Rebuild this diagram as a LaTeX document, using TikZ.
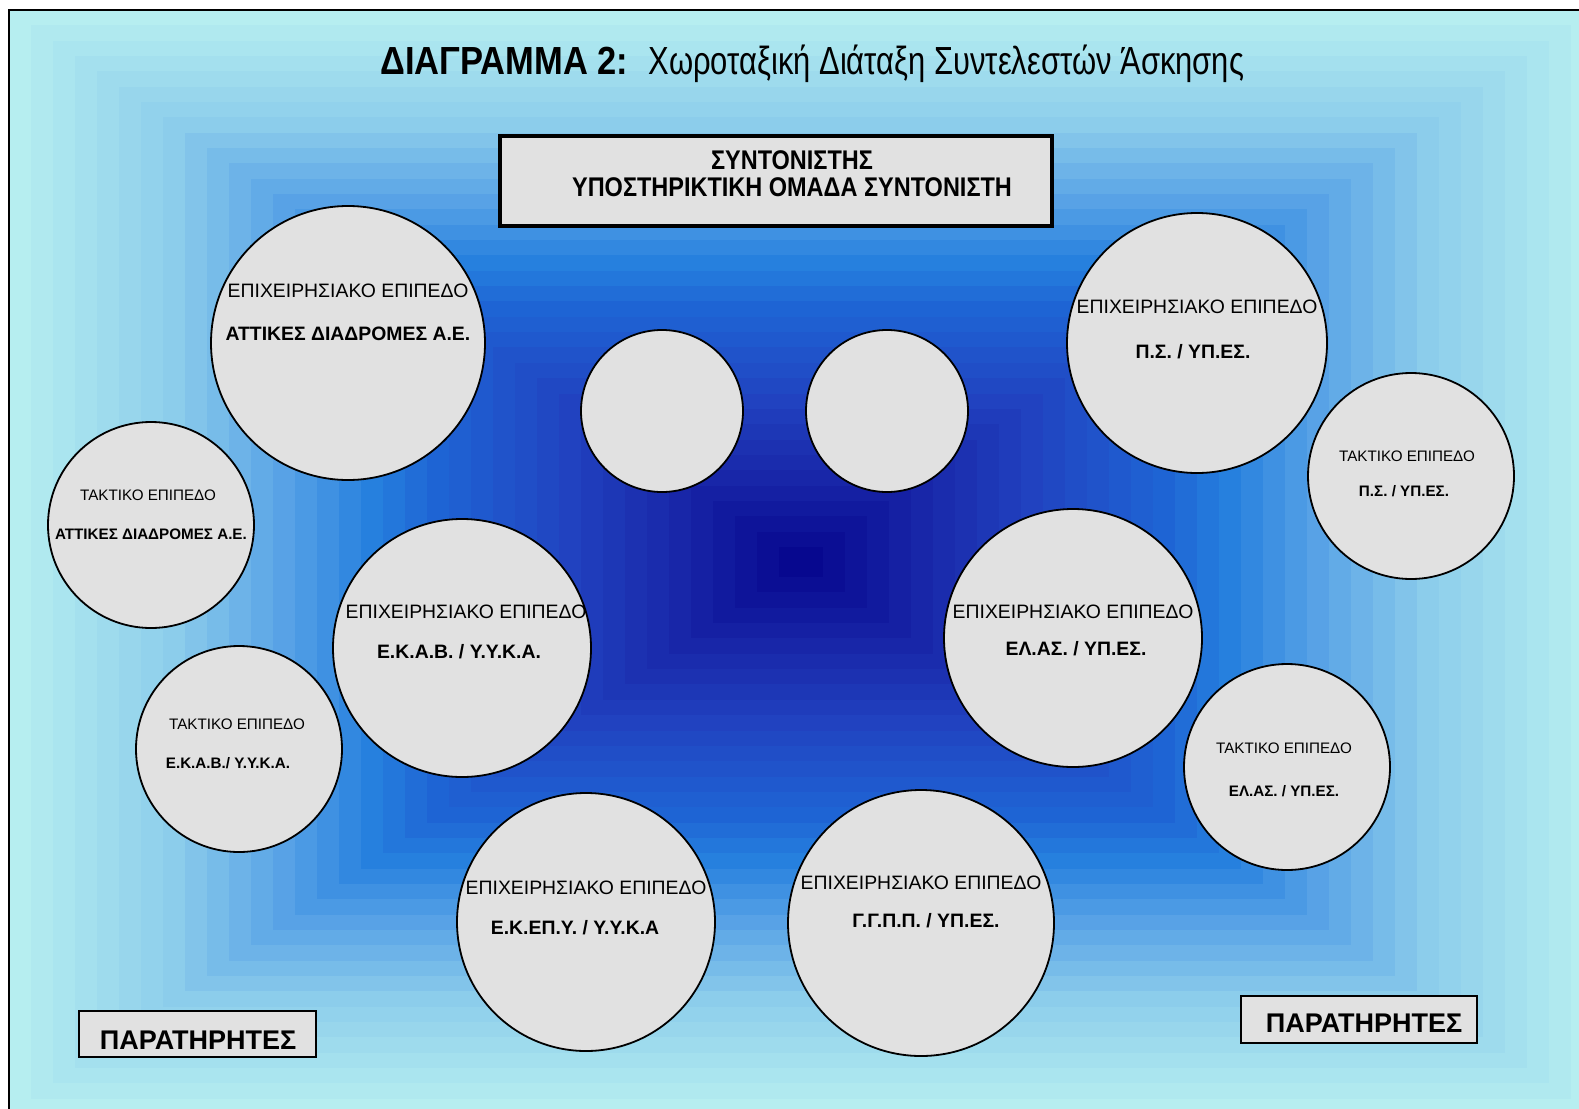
\documentclass[tikz,border=0pt]{standalone}
\usepackage{fontspec}
\setmainfont{Liberation Sans}
\newfontfamily\narrowA{Liberation Sans}[FakeStretch=0.88]
\newfontfamily\narrowC{Liberation Sans}[FakeStretch=0.87]
\newfontfamily\narrowB{Liberation Sans}[FakeStretch=0.79]
\definecolor{bg0}{RGB}{182,238,240}
\definecolor{bg1}{RGB}{140,205,235}
\definecolor{bg2}{RGB}{88,162,230}
\definecolor{bg3}{RGB}{38,128,222}
\definecolor{bg4}{RGB}{30,100,212}
\definecolor{bg5}{RGB}{33,66,192}
\definecolor{bg6}{RGB}{24,38,168}
\definecolor{bg7}{RGB}{4,2,138}
\definecolor{bubgray}{RGB}{225,225,225}
\begin{document}
\begin{tikzpicture}[x=0.5pt,y=-0.5pt,
  bub/.style={circle,draw=black,line width=0.9pt,fill=bubgray,inner sep=0pt,minimum size=#1},
  lvl/.style={anchor=base,inner sep=0pt,font=\fontsize{9.7pt}{11pt}\selectfont},
  lvlb/.style={lvl,font=\fontsize{9.7pt}{11pt}\selectfont\bfseries},
  slvl/.style={anchor=base,inner sep=0pt,font=\fontsize{7.6pt}{9pt}\selectfont},
  slvlb/.style={slvl,font=\fontsize{7.6pt}{9pt}\selectfont\bfseries},
  obsbox/.style={draw=black,line width=1pt,fill=bubgray},
  obstext/.style={anchor=base,inner sep=0pt,font=\fontsize{13.5pt}{15pt}\selectfont\bfseries},
  coordtext/.style={anchor=base,inner sep=0pt,font=\fontsize{13.5pt}{15pt}\narrowC\bfseries}]
\useasboundingbox (0,0) rectangle (1579,1108);
\fill[white] (0,0) rectangle (1579,1108);
% background gradient
\begin{scope}
\clip (0,0) rectangle (1579,1108);
\foreach \ka/\kb/\ca/\cb in {0/7/bg0/bg1,7/12/bg1/bg2,12/16/bg2/bg3,16/19/bg3/bg4,19/25/bg4/bg5,25/30/bg5/bg6,30/36/bg6/bg7}{
  \pgfmathtruncatemacro\kend{\kb-1}
  \foreach \k in {\ka,...,\kend}{
    \pgfmathtruncatemacro\p{100*(\k-\ka)/(\kb-\ka)}
    \pgfmathsetmacro\xa{9+\k*22}
    \pgfmathsetmacro\xb{1593-\k*22}
    \pgfmathsetmacro\ya{10+\k*15.34}
    \pgfmathsetmacro\yb{1114-\k*15.34}
    \colorlet{bandc}{\cb!\p!\ca}
    \fill[bandc] (\xa,\ya) rectangle (\xb,\yb);
  }
}
\draw[line width=1pt] (9,10) rectangle (1593,1114);
\end{scope}
% title
\node[anchor=base west,inner sep=0pt] (title) at (380,74)
  {\fontsize{19.6pt}{22pt}\narrowA\bfseries ΔΙΑΓΡΑΜΜΑ 2:\hspace{10pt}\narrowB\mdseries Χωροταξική Διάταξη Συντελεστών Άσκησης};
% coordinator box
\draw[line width=1.6pt,fill=bubgray] (500,136) rectangle (1052,226);
\node[coordtext] (coordA) at (792,169) {ΣΥΝΤΟΝΙΣΤΗΣ};
\node[coordtext] (coordB) at (792,196) {ΥΠΟΣΤΗΡΙΚΤΙΚΗ ΟΜΑΔΑ ΣΥΝΤΟΝΙΣΤΗ};
% circles
\node[bub=137pt] (c1) at (348,343) {};
\node[bub=103pt] (c2) at (151,525) {};
\node[bub=103pt] (c3) at (239,749) {};
\node[bub=129pt] (c4) at (462,648) {};
\node[bub=81pt] (c5) at (662,411) {};
\node[bub=81pt] (c6) at (887,411) {};
\node[bub=130pt] (c7) at (1197,343) {};
\node[bub=103pt] (c8) at (1411,476) {};
\node[bub=129pt] (c9) at (1073,638) {};
\node[bub=103pt] (c10) at (1287,767) {};
\node[bub=129pt] (c11) at (586,922) {};
\node[bub=133pt] (c12) at (921,923) {};
% circle texts
\node[lvl] (t1a) at (348,297) {ΕΠΙΧΕΙΡΗΣΙΑΚΟ ΕΠΙΠΕΔΟ};
\node[lvlb] (t1b) at (348,340) {ΑΤΤΙΚΕΣ ΔΙΑΔΡΟΜΕΣ Α.Ε.};
\node[slvl] (t2a) at (148,500) {ΤΑΚΤΙΚΟ ΕΠΙΠΕΔΟ};
\node[slvlb] (t2b) at (151,539) {ΑΤΤΙΚΕΣ ΔΙΑΔΡΟΜΕΣ Α.Ε.};
\node[slvl] (t3a) at (237,729) {ΤΑΚΤΙΚΟ ΕΠΙΠΕΔΟ};
\node[slvlb] (t3b) at (228,768) {Ε.Κ.Α.Β./ Υ.Υ.Κ.Α.};
\node[lvl] (t4a) at (466,618) {ΕΠΙΧΕΙΡΗΣΙΑΚΟ ΕΠΙΠΕΔΟ};
\node[lvlb] (t4b) at (459,658) {Ε.Κ.Α.Β. / Υ.Υ.Κ.Α.};
\node[lvl] (t7a) at (1197,313) {ΕΠΙΧΕΙΡΗΣΙΑΚΟ ΕΠΙΠΕΔΟ};
\node[lvlb] (t7b) at (1193,358) {Π.Σ. / ΥΠ.ΕΣ.};
\node[slvl] (t8a) at (1407,461) {ΤΑΚΤΙΚΟ ΕΠΙΠΕΔΟ};
\node[slvlb] (t8b) at (1404,496) {Π.Σ. / ΥΠ.ΕΣ.};
\node[lvl] (t9a) at (1073,618) {ΕΠΙΧΕΙΡΗΣΙΑΚΟ ΕΠΙΠΕΔΟ};
\node[lvlb] (t9b) at (1076,655) {ΕΛ.ΑΣ. / ΥΠ.ΕΣ.};
\node[slvl] (t10a) at (1284,753) {ΤΑΚΤΙΚΟ ΕΠΙΠΕΔΟ};
\node[slvlb] (t10b) at (1284,796) {ΕΛ.ΑΣ. / ΥΠ.ΕΣ.};
\node[lvl] (t11a) at (586,894) {ΕΠΙΧΕΙΡΗΣΙΑΚΟ ΕΠΙΠΕΔΟ};
\node[lvlb] (t11b) at (575,934) {Ε.Κ.ΕΠ.Υ. / Υ.Υ.Κ.Α};
\node[lvl] (t12a) at (921,889) {ΕΠΙΧΕΙΡΗΣΙΑΚΟ ΕΠΙΠΕΔΟ};
\node[lvlb] (t12b) at (926,927) {Γ.Γ.Π.Π. / ΥΠ.ΕΣ.};
% observers
\draw[obsbox] (79,1011) rectangle (316,1057);
\node[obstext] (obsL) at (198,1049) {ΠΑΡΑΤΗΡΗΤΕΣ};
\draw[obsbox] (1241,996) rectangle (1477,1043);
\node[obstext] (obsR) at (1364,1032) {ΠΑΡΑΤΗΡΗΤΕΣ};
\end{tikzpicture}
\end{document}
